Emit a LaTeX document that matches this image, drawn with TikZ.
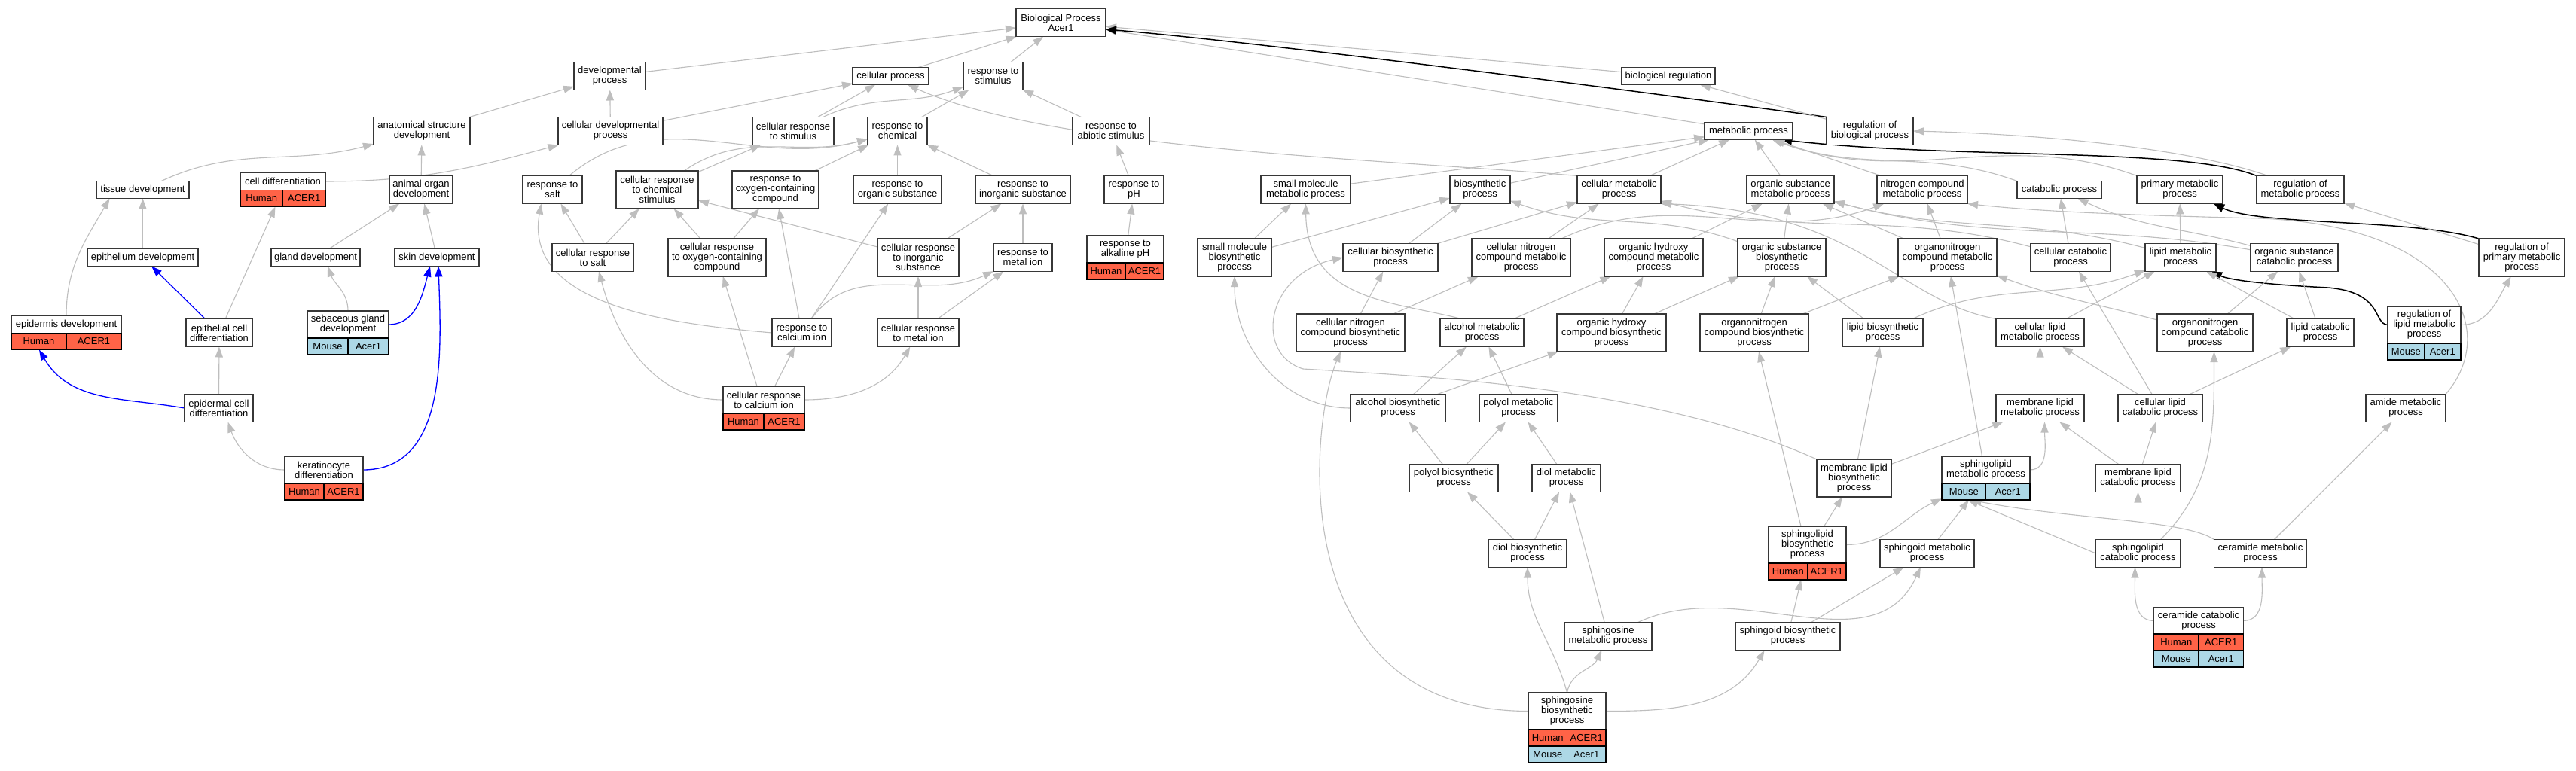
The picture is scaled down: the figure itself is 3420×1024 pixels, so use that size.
\documentclass[tikz,border=0pt]{standalone}
\usepackage{fontspec}
\setmainfont{Liberation Sans}
\usetikzlibrary{arrows.meta,fit}
\definecolor{humcol}{RGB}{255,99,71}
\definecolor{moucol}{RGB}{173,216,230}
\definecolor{edgecol}{RGB}{190,190,190}
\definecolor{boxcol}{RGB}{55,55,55}
\pgfdeclarelayer{background}
\pgfsetlayers{background,main}
\newcommand{\nbx}[6]{\node[box, minimum width=#4pt, minimum height=#5pt] (#1) at (#2,-#3) {#6};}
\newcommand{\humrow}[4]{%
  \node[cellbox, fill=humcol, minimum width=#4pt, anchor=north west] (#1a) at (#2.south west) {Human};
  \node[cellbox, fill=humcol, minimum width=#4pt, anchor=north east] (#1b) at (#3.south east) {ACER1};}
\newcommand{\mourow}[4]{%
  \node[cellbox, fill=moucol, minimum width=#4pt, anchor=north west] (#1a) at (#2.south west) {Mouse};
  \node[cellbox, fill=moucol, minimum width=#4pt, anchor=north east] (#1b) at (#3.south east) {Acer1};}
\begin{document}
\begin{tikzpicture}[x=1pt,y=1pt,
  box/.style={draw=boxcol, fill=white, line width=1.5pt, align=center, inner sep=2pt, outer sep=0pt,
    font=\fontsize{13pt}{13pt}\selectfont, text=black},
  cellbox/.style={draw=black, line width=1.2pt, minimum height=22pt, inner sep=1pt, outer sep=0pt,
    font=\fontsize{13pt}{13pt}\selectfont, text=black},
  fitn/.style={inner sep=0pt, outer sep=0pt},
  gedge/.style={draw=edgecol, line width=1.1pt, -{Triangle[length=14pt,width=10pt]}},
  bedge/.style={draw=blue, line width=1.3pt, -{Triangle[length=14pt,width=10pt]}},
  kedge/.style={draw=black, line width=1.5pt, -{Triangle[length=14pt,width=11pt]}}]
\useasboundingbox (0,0) rectangle (3420,-1024);

% ---------- nodes ----------
\nbx{bp}{1408.5}{30}{119}{37}{Biological Process\\Acer1}
\nbx{devp}{809.5}{101}{95}{37}{developmental\\process}
\nbx{cellp}{1182.5}{101}{101}{23}{cellular process}
\nbx{respstim}{1318.5}{101}{79}{37}{response to\\stimulus}
\nbx{bioreg}{2215}{101}{124}{23}{biological regulation}
\nbx{asd}{560}{174}{128}{37}{anatomical structure\\development}
\nbx{cdp}{810.5}{174}{139}{37}{cellular developmental\\process}
\nbx{crs}{1053}{174}{108}{37}{cellular response\\to stimulus}
\nbx{rchem}{1191.5}{174}{79}{37}{response to\\chemical}
\nbx{rabio}{1475}{174}{102}{37}{response to\\abiotic stimulus}
\nbx{mp}{2321.5}{174}{117}{23}{metabolic process}
\nbx{rbp}{2482.5}{174}{115}{37}{regulation of\\biological process}
\nbx{tissue}{189.5}{252}{123}{23}{tissue development}
\nbx{aod}{559}{252}{84}{37}{animal organ\\development}
\nbx{rsalt}{733.5}{252}{79}{37}{response to\\salt}
\nbx{crcs}{872.5}{252}{109}{50}{cellular response\\to chemical\\stimulus}
\nbx{roxy}{1029.5}{252}{115}{50}{response to\\oxygen-containing\\compound}
\nbx{rorg}{1191.5}{252}{117}{37}{response to\\organic substance}
\nbx{rinorg}{1358}{252}{126}{37}{response to\\inorganic substance}
\nbx{rph}{1505.5}{252}{79}{37}{response to\\pH}
\nbx{smm}{1733.5}{252}{119}{37}{small molecule\\metabolic process}
\nbx{bio}{1965}{252}{80}{37}{biosynthetic\\process}
\nbx{cmp}{2149.5}{252}{111}{37}{cellular metabolic\\process}
\nbx{osm}{2377}{252}{116}{37}{organic substance\\metabolic process}
\nbx{ncm}{2552}{252}{120}{37}{nitrogen compound\\metabolic process}
\nbx{cat}{2734}{252}{112}{23}{catabolic process}
\nbx{pmp}{2894}{252}{114}{37}{primary metabolic\\process}
\nbx{rmp}{3054}{252}{116}{37}{regulation of\\metabolic process}
\nbx{epith}{189.5}{342}{147}{23}{epithelium development}
\nbx{gland}{419}{342}{118}{23}{gland development}
\nbx{skin}{580}{342}{112}{23}{skin development}
\nbx{crsalt}{787}{342}{108}{37}{cellular response\\to salt}
\nbx{croxy}{952}{342}{130}{50}{cellular response\\to oxygen-containing\\compound}
\nbx{crinorg}{1219}{342}{108}{50}{cellular response\\to inorganic\\substance}
\nbx{rmetal}{1358}{342}{78}{37}{response to\\metal ion}
\nbx{smb}{1639}{342}{98}{50}{small molecule\\biosynthetic\\process}
\nbx{cbp}{1846}{342}{126}{37}{cellular biosynthetic\\process}
\nbx{cncm}{2019.5}{342}{131}{50}{cellular nitrogen\\compound metabolic\\process}
\nbx{ohcm}{2195.5}{342}{131}{50}{organic hydroxy\\compound metabolic\\process}
\nbx{osb}{2365.5}{342}{117}{50}{organic substance\\biosynthetic\\process}
\nbx{oncm}{2585.5}{342}{131}{50}{organonitrogen\\compound metabolic\\process}
\nbx{ccat}{2749}{342}{106}{37}{cellular catabolic\\process}
\nbx{lmp}{2895}{342}{94}{37}{lipid metabolic\\process}
\nbx{osc}{3046}{342}{116}{37}{organic substance\\catabolic process}
\nbx{rpmp}{3348}{342}{114}{50}{regulation of\\primary metabolic\\process}
\nbx{epcd}{291}{442}{88}{37}{epithelial cell\\differentiation}
\nbx{rcalc}{1064.5}{442}{79}{37}{response to\\calcium ion}
\nbx{crmetal}{1219}{442}{108}{37}{cellular response\\to metal ion}
\nbx{cncb}{1793}{442}{144}{50}{cellular nitrogen\\compound biosynthetic\\process}
\nbx{amp}{1967.5}{442}{111}{37}{alcohol metabolic\\process}
\nbx{ohcb}{2139.5}{442}{145}{50}{organic hydroxy\\compound biosynthetic\\process}
\nbx{oncb}{2329}{442}{144}{50}{organonitrogen\\compound biosynthetic\\process}
\nbx{lbp}{2499.5}{442}{107}{37}{lipid biosynthetic\\process}
\nbx{clmp}{2708.5}{442}{117}{37}{cellular lipid\\metabolic process}
\nbx{oncc}{2927.5}{442}{127}{50}{organonitrogen\\compound catabolic\\process}
\nbx{lcp}{3080.5}{442}{89}{37}{lipid catabolic\\process}
\nbx{epcd2}{290.5}{542}{91}{37}{epidermal cell\\differentiation}
\nbx{abp}{1856}{542}{126}{37}{alcohol biosynthetic\\process}
\nbx{polm}{2016}{542}{104}{37}{polyol metabolic\\process}
\nbx{mlmp}{2708.5}{542}{117}{37}{membrane lipid\\metabolic process}
\nbx{clcp}{2868}{542}{112}{37}{cellular lipid\\catabolic process}
\nbx{amide}{3194}{542}{106}{37}{amide metabolic\\process}
\nbx{polb}{1930}{635}{118}{37}{polyol biosynthetic\\process}
\nbx{diolm}{2079.5}{635}{91}{37}{diol metabolic\\process}
\nbx{mlb}{2461.5}{635}{99}{50}{membrane lipid\\biosynthetic\\process}
\nbx{mlcp}{2838.5}{635}{112}{37}{membrane lipid\\catabolic process}
\nbx{diolb}{2028}{735}{104}{37}{diol biosynthetic\\process}
\nbx{sgmp}{2558.5}{735}{125}{37}{sphingoid metabolic\\process}
\nbx{slcp}{2838.5}{735}{112}{37}{sphingolipid\\catabolic process}
\nbx{cerm}{3001}{735}{123}{37}{ceramide metabolic\\process}
\nbx{smp}{2135}{845}{116}{37}{sphingosine\\metabolic process}
\nbx{sgbp}{2373.5}{845}{139}{37}{sphingoid biosynthetic\\process}

% annotated nodes
\nbx{celldiffW}{375.5}{241}{113}{23}{cell differentiation}
\humrow{celldiffH}{celldiffW}{celldiffW}{56.5}
\node[fitn, fit=(celldiffW)(celldiffHa)(celldiffHb)] (celldiff) {};

\nbx{ralkW}{1494}{331}{102}{36}{response to\\alkaline pH}
\humrow{ralkH}{ralkW}{ralkW}{51}
\node[fitn, fit=(ralkW)(ralkHa)(ralkHb)] (ralk) {};

\nbx{epidW}{88}{431}{146}{23}{epidermis development}
\humrow{epidH}{epidW}{epidW}{73}
\node[fitn, fit=(epidW)(epidHa)(epidHb)] (epid) {};

\nbx{sgdW}{462}{431}{108}{36}{sebaceous gland\\development}
\mourow{sgdM}{sgdW}{sgdW}{54}
\node[fitn, fit=(sgdW)(sgdMa)(sgdMb)] (sgd) {};

\nbx{rlmpW}{3218.5}{431.5}{97}{49}{regulation of\\lipid metabolic\\process}
\mourow{rlmpM}{rlmpW}{rlmpW}{48.5}
\node[fitn, fit=(rlmpW)(rlmpMa)(rlmpMb)] (rlmp) {};

\nbx{crcalcW}{1014}{531}{108}{36}{cellular response\\to calcium ion}
\humrow{crcalcH}{crcalcW}{crcalcW}{54}
\node[fitn, fit=(crcalcW)(crcalcHa)(crcalcHb)] (crcalc) {};

\nbx{kerW}{430}{624}{104}{36}{keratinocyte\\differentiation}
\humrow{kerH}{kerW}{kerW}{52}
\node[fitn, fit=(kerW)(kerHa)(kerHb)] (ker) {};

\nbx{slmpW}{2636.5}{624}{117}{36}{sphingolipid\\metabolic process}
\mourow{slmpM}{slmpW}{slmpW}{58.5}
\node[fitn, fit=(slmpW)(slmpMa)(slmpMb)] (slmp) {};

\nbx{slbW}{2399.5}{723.5}{103}{49}{sphingolipid\\biosynthetic\\process}
\humrow{slbH}{slbW}{slbW}{51.5}
\node[fitn, fit=(slbW)(slbHa)(slbHb)] (slb) {};

\nbx{cercW}{2919}{824.5}{119}{35}{ceramide catabolic\\process}
\humrow{cercH}{cercW}{cercW}{59.5}
\mourow{cercM}{cercHa}{cercHb}{59.5}
\node[fitn, fit=(cercW)(cercMa)(cercMb)] (cerc) {};

\nbx{sbpW}{2080.5}{944.5}{103}{49}{sphingosine\\biosynthetic\\process}
\humrow{sbpH}{sbpW}{sbpW}{51.5}
\mourow{sbpM}{sbpHa}{sbpHb}{51.5}
\node[fitn, fit=(sbpW)(sbpMa)(sbpMb)] (sbp) {};

% ---------- edges ----------
\begin{pgfonlayer}{background}
\fill[white] (0,0) rectangle (3420,-1024);
% top
\draw[gedge] (devp) -- (bp);
\draw[gedge] (cellp) -- (bp);
\draw[gedge] (respstim) -- (bp);
\draw[gedge] (bioreg) -- (bp);
\draw[gedge] (mp) -- (bp);
\draw[kedge] (rbp.north west) .. controls (2300,-138) and (1700,-58) .. ([yshift=-9pt]bp.east);
\draw[gedge] (rbp) -- (bioreg);
% development
\draw[gedge] (asd) -- (devp);
\draw[gedge] (cdp) -- (devp);
\draw[gedge] (cdp) -- (cellp);
\draw[gedge] (tissue) to[out=25,in=195] (asd);
\draw[gedge] (celldiffW.east) to[out=0,in=195] (cdp);
\draw[gedge] (aod) -- (asd);
\draw[gedge] (epith) -- (tissue);
\draw[gedge] (epid.north) to[out=90,in=-120] ([xshift=-44pt]tissue.south);
\draw[gedge] (gland) -- (aod);
\draw[gedge] (skin) -- (aod);
\draw[gedge] (epcd) -- (celldiff);
\draw[bedge] (epcd) -- (epith);
\draw[gedge] (sgd.north) to[out=90,in=-70] ([xshift=16pt]gland.south);
\draw[bedge] (sgdW.east) to[out=0,in=-105] ([xshift=-9pt]skin.south);
\draw[gedge] (epcd2) -- (epcd);
\draw[bedge] (epcd2.west) to[out=170,in=-60] ([xshift=-36pt]epid.south);
\draw[gedge] (kerW.west) to[out=180,in=-70] ([xshift=12pt]epcd2.south);
\draw[bedge] (kerW.east) to[out=0,in=-88] ([xshift=2pt]skin.south);
% response
\draw[gedge] (crs) -- (cellp);
\draw[gedge] (crs) to[out=25,in=200] (respstim);
\draw[gedge] (rchem) -- (respstim);
\draw[gedge] (rabio) -- (respstim);
\draw[gedge] (cmp.north west) .. controls (1850,-212) and (1400,-200) .. ([xshift=-28pt]cellp.south east);
\draw[gedge] (rsalt) to[out=40,in=195] (rchem);
\draw[gedge] (crcs) to[out=35,in=195] (rchem);
\draw[gedge] (crcs) -- (crs);
\draw[gedge] (roxy) -- (rchem);
\draw[gedge] (rorg) -- (rchem);
\draw[gedge] (rinorg) -- (rchem);
\draw[gedge] (rph) -- (rabio);
\draw[gedge] (crsalt) -- (rsalt);
\draw[gedge] (crsalt) -- (crcs);
\draw[gedge] (croxy) -- (crcs);
\draw[gedge] (croxy) -- (roxy);
\draw[gedge] (crinorg) -- (crcs);
\draw[gedge] (crinorg) -- (rinorg);
\draw[gedge] (rmetal) -- (rinorg);
\draw[gedge] (ralk) -- (rph);
\draw[gedge] (rcalc.west) to[out=175,in=-100] ([xshift=-15pt]rsalt.south);
\draw[gedge] (rcalc) -- (roxy);
\draw[gedge] (rcalc) -- (rorg);
\draw[gedge] (rcalc) to[out=55,in=205] (rmetal);
\draw[gedge] (crmetal) -- (crinorg);
\draw[gedge] (crmetal) -- (rmetal);
\draw[gedge] (crcalc) -- (rcalc);
\draw[gedge] (crcalcW.east) to[out=0,in=-120] (crmetal);
\draw[gedge] (crcalcW.west) to[out=180,in=-75] ([xshift=8pt]crsalt.south);
\draw[gedge] (crcalc) -- (croxy);
% metabolic
\draw[kedge] (rmp.north west) .. controls (2900,-195) and (2600,-212) .. ([xshift=-15pt]mp.south east);
\draw[gedge] ([xshift=15pt]rmp.north west) .. controls (2900,-195) and (2700,-178) .. (rbp.east);
\draw[kedge] (rpmp.north west) .. controls (3200,-290) and (3000,-300) .. ([xshift=-12pt]pmp.south east);
\draw[gedge] (rpmp) -- (rmp);
\draw[kedge] (rlmpW.west) .. controls (3150,-430) and (3165,-388) .. (3090,-382) .. controls (3010,-378) and (2960,-372) .. ([xshift=-6pt]lmp.south east);
\draw[gedge] (rlmpW.east) to[out=0,in=-120] (rpmp);
\draw[gedge] (smm) -- (mp);
\draw[gedge] (bio) -- (mp);
\draw[gedge] (cmp) -- (mp);
\draw[gedge] (osm) -- (mp);
\draw[gedge] (ncm) -- (mp);
\draw[gedge] (cat.north west) to[out=160,in=-20] (mp);
\draw[gedge] (pmp.north west) to[out=160,in=-20] (mp);
\draw[gedge] (smb) -- (smm);
\draw[gedge] (smb) -- (bio);
\draw[gedge] (cbp) -- (bio);
\draw[gedge] (cbp) -- (cmp);
\draw[gedge] (cncm) -- (cmp);
\draw[gedge] (cncm) to[out=25,in=200] (ncm);
\draw[gedge] (ohcm) -- (osm);
\draw[gedge] (osb) -- (osm);
\draw[gedge] (osb) to[out=160,in=-20] (bio);
\draw[gedge] (oncm) -- (osm);
\draw[gedge] (oncm) -- (ncm);
\draw[gedge] (ccat) to[out=165,in=-15] (cmp);
\draw[gedge] (ccat) -- (cat);
\draw[gedge] (lmp) -- (pmp);
\draw[gedge] (lmp) to[out=165,in=-15] (osm);
\draw[gedge] (osc) to[out=165,in=-25] (cat);
\draw[gedge] (osc) to[out=170,in=-15] (osm);
\draw[gedge] (amide.north east) .. controls (3320,-440) and (3260,-300) .. (3000,-290) .. controls (2800,-285) and (2700,-280) .. (ncm.south east);
\draw[gedge] (cncb) -- (cbp);
\draw[gedge] (cncb) -- (cncm);
\draw[gedge] ([xshift=28pt]amp.north west) .. controls (1850,-400) and (1735,-400) .. (smm.south);
\draw[gedge] (amp) -- (ohcm);
\draw[gedge] (ohcb) -- (ohcm);
\draw[gedge] (ohcb) -- (osb);
\draw[gedge] (oncb) -- (osb);
\draw[gedge] (oncb) -- (oncm);
\draw[gedge] (lbp) -- (osb);
\draw[gedge] (lbp) to[out=25,in=200] (lmp);
\draw[gedge] (clmp.north west) .. controls (2520,-400) and (2470,-280) .. (cmp.south east);
\draw[gedge] (clmp) -- (lmp);
\draw[gedge] (oncc) to[out=165,in=-20] (oncm);
\draw[gedge] (oncc) -- (osc);
\draw[gedge] (lcp) -- (lmp);
\draw[gedge] (lcp) -- (osc);
\draw[gedge] (abp.west) to[out=180,in=-90] (smb);
\draw[gedge] (abp) -- (amp);
\draw[gedge] (abp) -- (ohcb);
\draw[gedge] (polm) -- (amp);
\draw[gedge] (mlb.north west) .. controls (2200,-515) and (1900,-500) .. (1730,-490) .. controls (1665,-470) and (1680,-365) .. (cbp.west);
\draw[gedge] (mlb) -- (lbp);
\draw[gedge] (mlb) -- (mlmp);
\draw[gedge] (mlmp) -- (clmp);
\draw[gedge] (clcp) -- (clmp);
\draw[gedge] (clcp) -- (ccat);
\draw[gedge] (clcp) -- (lcp);
\draw[gedge] (polb) -- (abp);
\draw[gedge] (polb) -- (polm);
\draw[gedge] (diolm) -- (polm);
\draw[gedge] (diolb) -- (polb);
\draw[gedge] (diolb) -- (diolm);
\draw[gedge] (slb) -- (mlb);
\draw[gedge] (slbW.east) to[out=0,in=205] (slmp);
\draw[gedge] (slb) -- (oncb);
\draw[gedge] (sgmp) -- (slmp);
\draw[gedge] (slmpW.east) to[out=0,in=-90] ([xshift=6pt]mlmp.south);
\draw[gedge] (slmp) -- (oncm);
\draw[gedge] (sgbp) -- (slb);
\draw[gedge] (sgbp) -- (sgmp);
\draw[gedge] (smp) -- (diolm);
\draw[gedge] (smp) to[out=25,in=-115] (sgmp);
\draw[gedge] (sbp.north) to[out=105,in=-90] (diolb);
\draw[gedge] (sbp.north) to[out=80,in=-115] (smp);
\draw[gedge] (sbpW.west) .. controls (1700,-944) and (1740,-560) .. ([xshift=-13pt]cncb.south);
\draw[gedge] (sbpW.east) to[out=0,in=-120] ([xshift=-31pt]sgbp.south);
\draw[gedge] (slcp) -- (mlcp);
\draw[gedge] (slcp.west) -- ([xshift=-24pt]slmp.south);
\draw[gedge] ([xshift=30pt]slcp.north) to[out=45,in=-90] ([xshift=12pt]oncc.south);
\draw[gedge] (cerm.north west) .. controls (2900,-690) and (2750,-690) .. ([xshift=-20pt]slmp.south);
\draw[gedge] (cerm) -- (amide);
\draw[gedge] (cercW.west) to[out=180,in=-90] ([xshift=-4pt]slcp.south);
\draw[gedge] (cercW.east) to[out=0,in=-90] ([xshift=2pt]cerm.south);
\draw[gedge] (mlcp) -- (mlmp);
\draw[gedge] (mlcp) -- (clcp);
\end{pgfonlayer}
\end{tikzpicture}
\end{document}
